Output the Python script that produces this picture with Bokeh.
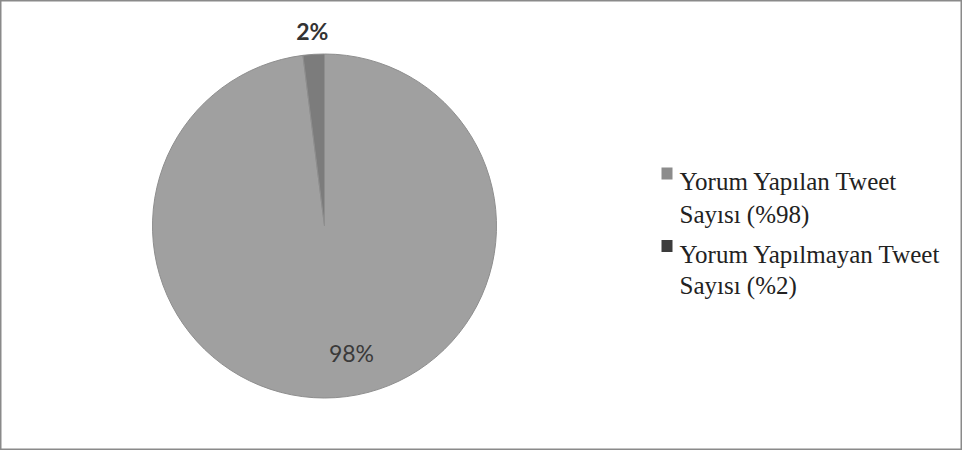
import math
from bokeh.plotting import figure
from bokeh.models import Range1d, ColumnDataSource
from bokeh.core.properties import value
from bokeh.embed import file_html
from bokeh.resources import INLINE

# ---- data ----
categories = ["Yorum Yapılan Tweet Sayısı (%98)", "Yorum Yapılmayan Tweet Sayısı (%2)"]
legend_lines = [["Yorum Yapılan Tweet", "Sayısı (%98)"],
                ["Yorum Yapılmayan Tweet", "Sayısı (%2)"]]
shares = [98, 2]
slice_labels = ["98%", "2%"]

# ---- styles ----
slice_colors = ["#a0a0a0", "#7c7c7c"]
legend_colors = ["#8c8c8c", "#3c3c3c"]

W, H = 962, 450
def Y(img_y):
    return 466 - img_y

p = figure(width=W, height=H, output_backend="svg", toolbar_location=None,
           x_range=Range1d(10, 972), y_range=Range1d(7.5, 457.5), min_border=0)
p.axis.visible = False
p.grid.visible = False
p.outline_line_color = "#8a8a8a"
p.outline_line_width = 2
p.background_fill_color = "white"
p.border_fill_color = "white"

cx, cy, r = 334, Y(234), 172
total = sum(shares)
start = math.pi / 2
starts, ends, mids = [], [], []
for s in shares:
    a = 2 * math.pi * s / total
    starts.append(start)
    ends.append(start - a)
    mids.append(start - a / 2)
    start -= a

src = ColumnDataSource(dict(start=starts, end=ends, color=slice_colors))
p.wedge(x=cx, y=cy, radius=r, radius_units="screen", start_angle="start", end_angle="end",
        direction="clock", fill_color="color", line_color="#8e8e8e", line_width=1, source=src)

# data labels
# 2% outside end
lx = cx + 195 * math.cos(mids[1])
ly = cy + 195 * math.sin(mids[1])
p.text(x=[lx], y=[ly], text=[slice_labels[1]], text_font=value("Lato"), text_font_style="bold",
       text_font_size="23px", text_color="#333333", text_align="center", text_baseline="middle")
# 98% inside (best fit)
p.text(x=[361], y=[Y(361)], text=[slice_labels[0]], text_font=value("Lato"),
       text_font_size="23px", text_color="#3a3a3a", text_align="center", text_baseline="middle")

# legend
marker_y = [Y(181.5), Y(254)]
baselines = [[Y(189), Y(222.5)], [Y(262), Y(293)]]
p.rect(x=[676.5, 676.5], y=marker_y, width=11, height=12, width_units="screen",
       height_units="screen", fill_color=legend_colors, line_color=None)
for i, lines in enumerate(legend_lines):
    p.text(x=[689] * len(lines), y=baselines[i], text=lines, text_font=value("Liberation Serif"),
           text_font_size="25px", text_color="#222222", text_align="left",
           text_baseline="alphabetic")

open("out.html", "w").write(file_html(p, INLINE))
